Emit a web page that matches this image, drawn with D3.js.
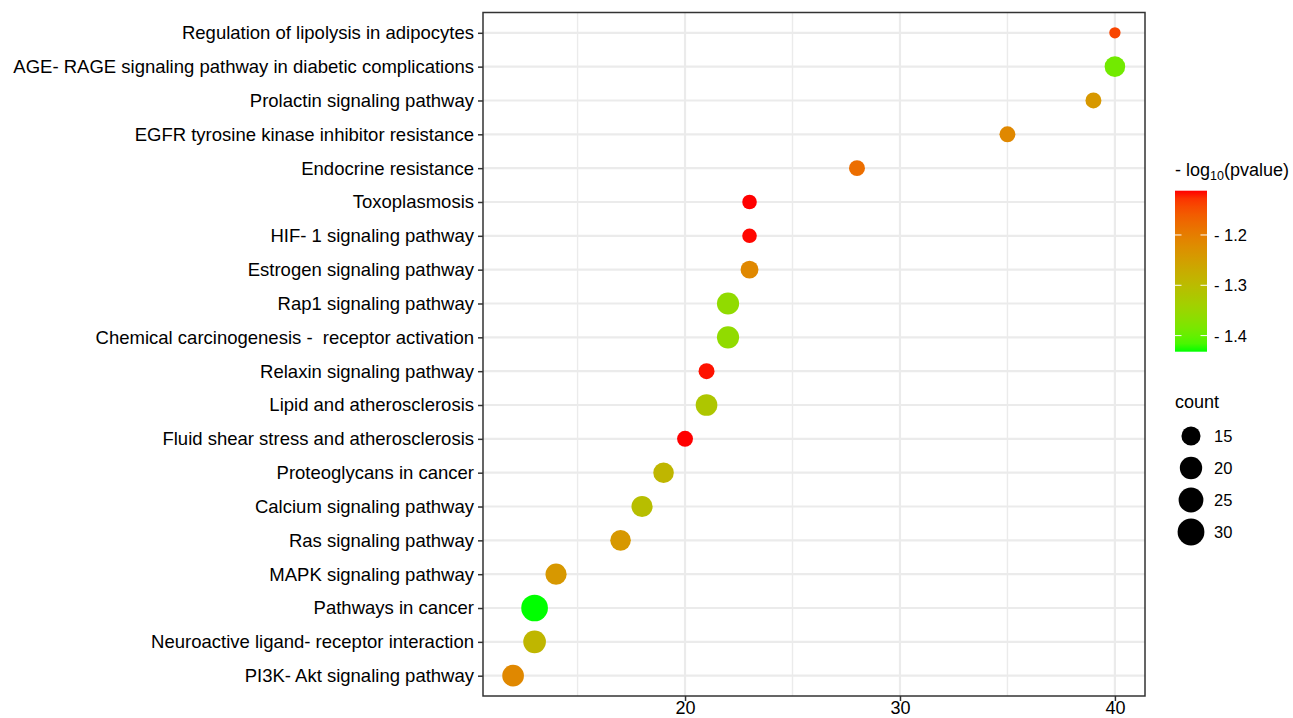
<!DOCTYPE html>
<html>
<head>
<meta charset="utf-8">
<script src="https://cdn.jsdelivr.net/npm/d3@7"></script>
<style>
  html, body { margin: 0; padding: 0; background: #fff; }
  svg { display: block; }
  text { font-family: "Liberation Sans", Arial, Helvetica, sans-serif; }
</style>
</head>
<body>
<svg id="chart" width="1293" height="718"></svg>
<script>
// ---- data (top to bottom) ----
const pathways = [
  "Regulation of lipolysis in adipocytes",
  "AGE- RAGE signaling pathway in diabetic complications",
  "Prolactin signaling pathway",
  "EGFR tyrosine kinase inhibitor resistance",
  "Endocrine resistance",
  "Toxoplasmosis",
  "HIF- 1 signaling pathway",
  "Estrogen signaling pathway",
  "Rap1 signaling pathway",
  "Chemical carcinogenesis -  receptor activation",
  "Relaxin signaling pathway",
  "Lipid and atherosclerosis",
  "Fluid shear stress and atherosclerosis",
  "Proteoglycans in cancer",
  "Calcium signaling pathway",
  "Ras signaling pathway",
  "MAPK signaling pathway",
  "Pathways in cancer",
  "Neuroactive ligand- receptor interaction",
  "PI3K- Akt signaling pathway"
];
const xValues = [40, 40, 39, 35, 28, 23, 23, 23, 22, 22, 21, 21, 20, 19, 18, 17, 14, 13, 13, 12];
const counts  = [11, 19, 13, 13, 13, 12, 12, 15, 22, 22, 13, 21, 13, 19, 20, 19, 20, 33, 23, 21];
const pvalues = [-1.14, -1.39, -1.24, -1.215, -1.18, -1.112, -1.113, -1.215, -1.36, -1.36,
                 -1.115, -1.32, -1.112, -1.29, -1.305, -1.24, -1.24, -1.432, -1.29, -1.215];
const xTicks = [20, 30, 40];
const xMinorTicks = [15, 25, 35];
const colorTicks = [-1.2, -1.3, -1.4];
const colorTickLabels = ["- 1.2", "- 1.3", "- 1.4"];
const sizeBreaks = [15, 20, 25, 30];

const data = pathways.map((p, i) => ({ name: p, x: xValues[i], count: counts[i], pv: pvalues[i] }));

// ---- layout ----
const panel = { left: 483, right: 1145, top: 12.5, bottom: 696 };
const svg = d3.select("#chart");

const xExt = d3.extent(xValues);
const xPad = (xExt[1] - xExt[0]) * 0.05;
const x = d3.scaleLinear().domain([xExt[0] - xPad, xExt[1] + xPad]).range([panel.left, panel.right]);
const y = d3.scalePoint().domain(pathways).range([panel.top, panel.bottom]).padding(0.6);

const pvExt = d3.extent(pvalues);
const color = d3.scaleLinear().domain(pvExt).range(["#00ff00", "#ff0000"]).interpolate(d3.interpolateLab);

const cExt = d3.extent(counts);
const rScale = d3.scaleSqrt().domain([0, cExt[1] - cExt[0]]).range([5.65, 13.35]).clamp(true);
const radius = c => rScale(Math.max(0, c - cExt[0]));

// ---- grid ----
const grid = svg.append("g");
grid.selectAll("line.minor").data(xMinorTicks).join("line")
  .attr("x1", d => x(d)).attr("x2", d => x(d))
  .attr("y1", panel.top).attr("y2", panel.bottom)
  .attr("stroke", "#ebebeb").attr("stroke-width", 1.4);
grid.selectAll("line.majx").data(xTicks).join("line")
  .attr("x1", d => x(d)).attr("x2", d => x(d))
  .attr("y1", panel.top).attr("y2", panel.bottom)
  .attr("stroke", "#ebebeb").attr("stroke-width", 2.2);
grid.selectAll("line.majy").data(pathways).join("line")
  .attr("x1", panel.left).attr("x2", panel.right)
  .attr("y1", d => y(d)).attr("y2", d => y(d))
  .attr("stroke", "#ebebeb").attr("stroke-width", 2.2);

// ---- points ----
svg.append("g").selectAll("circle").data(data).join("circle")
  .attr("cx", d => x(d.x)).attr("cy", d => y(d.name))
  .attr("r", d => radius(d.count))
  .attr("fill", d => color(d.pv));

// ---- panel border ----
svg.append("rect")
  .attr("x", panel.left).attr("y", panel.top)
  .attr("width", panel.right - panel.left).attr("height", panel.bottom - panel.top)
  .attr("fill", "none").attr("stroke", "#333333").attr("stroke-width", 1.5);

// ---- axes ----
const xAxis = d3.axisBottom(x).tickValues(xTicks).tickSize(5).tickPadding(4).tickFormat(d3.format("d"));
const gx = svg.append("g").attr("transform", `translate(0,${panel.bottom})`).call(xAxis);
gx.select(".domain").remove();
gx.selectAll(".tick line").attr("stroke", "#333").attr("stroke-width", 1.5);
gx.selectAll(".tick text").attr("font-size", 18).attr("fill", "#000")
  .attr("font-family", "'Liberation Sans', Arial, sans-serif").attr("dy", "9px");

const yAxis = d3.axisLeft(y).tickSize(5).tickPadding(4);
const gy = svg.append("g").attr("transform", `translate(${panel.left},0)`).call(yAxis);
gy.select(".domain").remove();
gy.selectAll(".tick line").attr("stroke", "#333").attr("stroke-width", 1.5);
gy.selectAll(".tick text").attr("font-size", 18.5).attr("fill", "#000")
  .attr("font-family", "'Liberation Sans', Arial, sans-serif")
  .style("white-space", "pre").attr("xml:space", "preserve");

// ---- colour legend ----
const lg = svg.append("g");
const t1 = lg.append("text").attr("x", 1175).attr("y", 176).attr("font-size", 18).attr("fill", "#000");
t1.append("tspan").text("- log");
t1.append("tspan").attr("font-size", 12.5).attr("dy", 4).text("10");
t1.append("tspan").attr("dy", -4).text("(pvalue)");

const bar = { x: 1175, w: 32, top: 190.7, bottom: 351.7 };
const cy = d3.scaleLinear().domain(pvExt).range([bar.bottom, bar.top]);
const defs = svg.append("defs");
const grad = defs.append("linearGradient").attr("id", "cbar")
  .attr("x1", 0).attr("y1", 1).attr("x2", 0).attr("y2", 0);
d3.range(0, 1.0001, 0.05).forEach(t => {
  grad.append("stop").attr("offset", t).attr("stop-color", color(pvExt[0] + t * (pvExt[1] - pvExt[0])));
});
lg.append("rect").attr("x", bar.x).attr("y", bar.top).attr("width", bar.w)
  .attr("height", bar.bottom - bar.top).attr("fill", "url(#cbar)");
colorTicks.forEach((v, i) => {
  const yy = cy(v);
  lg.append("line").attr("x1", bar.x).attr("x2", bar.x + 6.5).attr("y1", yy).attr("y2", yy)
    .attr("stroke", "#fff").attr("stroke-width", 1);
  lg.append("line").attr("x1", bar.x + bar.w - 6.5).attr("x2", bar.x + bar.w).attr("y1", yy).attr("y2", yy)
    .attr("stroke", "#fff").attr("stroke-width", 1);
  lg.append("text").attr("x", 1214).attr("y", yy).attr("dy", "0.36em")
    .attr("font-size", 16.5).attr("fill", "#000").text(colorTickLabels[i]);
});

// ---- size legend ----
lg.append("text").attr("x", 1175).attr("y", 408).attr("font-size", 18).attr("fill", "#000").text("count");
sizeBreaks.forEach((b, i) => {
  const yy = 436 + i * 32;
  lg.append("circle").attr("cx", 1191).attr("cy", yy).attr("r", radius(b) + 0.6).attr("fill", "#000");
  lg.append("text").attr("x", 1214).attr("y", yy).attr("dy", "0.36em")
    .attr("font-size", 16.5).attr("fill", "#000").text(b);
});
</script>
</body>
</html>
